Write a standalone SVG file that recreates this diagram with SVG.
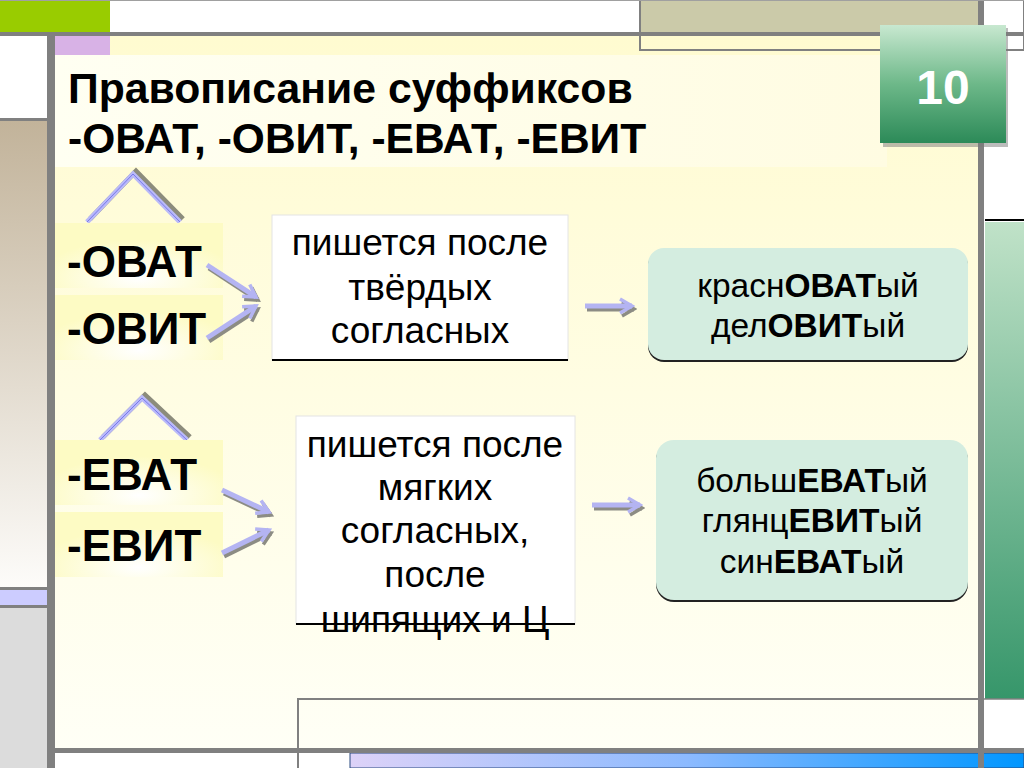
<svg xmlns="http://www.w3.org/2000/svg" width="1024" height="768" viewBox="0 0 1024 768">
<defs>
  <linearGradient id="panel" x1="0" y1="0" x2="0" y2="1">
    <stop offset="0" stop-color="#fffbd0"/>
    <stop offset="1" stop-color="#fffff6"/>
  </linearGradient>
  <linearGradient id="titleband" x1="0" y1="0" x2="1" y2="0">
    <stop offset="0" stop-color="#fffff2"/>
    <stop offset="1" stop-color="#fffce2"/>
  </linearGradient>
  <linearGradient id="tan" x1="0" y1="0" x2="0" y2="1">
    <stop offset="0" stop-color="#c2b39a"/>
    <stop offset="1" stop-color="#fdfcfa"/>
  </linearGradient>
  <linearGradient id="greenbar" x1="0" y1="0" x2="0" y2="1">
    <stop offset="0" stop-color="#c0e2c8"/>
    <stop offset="1" stop-color="#36966a"/>
  </linearGradient>
  <linearGradient id="badge" x1="0" y1="0" x2="0" y2="1">
    <stop offset="0" stop-color="#c8e8d0"/>
    <stop offset="0.5" stop-color="#6db889"/>
    <stop offset="1" stop-color="#2c8a58"/>
  </linearGradient>
  <linearGradient id="blue" x1="0" y1="0" x2="1" y2="0">
    <stop offset="0" stop-color="#ddd2f8"/>
    <stop offset="0.5" stop-color="#8cbaff"/>
    <stop offset="1" stop-color="#0096ff"/>
  </linearGradient>
  <radialGradient id="lab" cx="0.5" cy="0.85" r="0.6">
    <stop offset="0" stop-color="#ffffff"/>
    <stop offset="1" stop-color="#fdfbc4"/>
  </radialGradient>
  <marker id="head" viewBox="0 0 18 18" refX="15" refY="9" markerWidth="18" markerHeight="18" markerUnits="userSpaceOnUse" orient="auto">
    <path d="M3,2 L15,9 L3,16" fill="none" stroke="#b4b4f2" stroke-width="3.5"/>
  </marker>
  <marker id="headS" viewBox="0 0 18 18" refX="15" refY="9" markerWidth="18" markerHeight="18" markerUnits="userSpaceOnUse" orient="auto">
    <path d="M3,2 L15,9 L3,16" fill="none" stroke="#8c8c84" stroke-width="3.5"/>
  </marker>
  <style>
    .t { font-family: "Liberation Sans", Arial, sans-serif; fill: #000; }
    .b { font-weight: bold; }
    .grid { fill: #808080; }
    .thin { fill: none; stroke: #808080; stroke-width: 2; }
    .sh { fill: none; stroke: #8c8c84; stroke-width: 5; marker-end: url(#headS); }
    .ar { fill: none; stroke: #b4b4f2; stroke-width: 5; marker-end: url(#head); }
    .chs { fill: none; stroke: #8c8c7c; stroke-width: 5; }
    .ch { fill: none; stroke: #babaf8; stroke-width: 5; }
    .chi { fill: none; stroke: #7878ee; stroke-width: 1; }
    .lab { fill: url(#lab); }
    .rule { fill: #ffffff; stroke: #e4e4e4; stroke-width: 1; }
    .res { fill: #d4ede0; }
    .resS { fill: #222222; }
  </style>
</defs>

<!-- background frame -->
<rect x="0" y="0" width="1024" height="768" fill="#ffffff"/>
<rect x="0" y="0" width="110" height="32" fill="#99cc00"/>
<rect x="640" y="0" width="340" height="33" fill="#cbcaa9"/>
<rect x="55" y="36" width="925" height="713" fill="url(#panel)"/>
<rect x="55" y="36" width="55" height="19" fill="#d8b2e6"/>
<rect x="640" y="0" width="384" height="50" class="thin" stroke-width="1.5"/>
<rect x="0" y="121" width="47" height="468" fill="url(#tan)"/>
<rect x="0" y="590" width="47" height="15" fill="#ccccff"/>
<rect x="0" y="608" width="47" height="160" fill="#dcdcdc"/>
<rect x="0" y="118" width="47" height="3" class="grid"/>
<rect x="0" y="587" width="47" height="3" class="grid"/>
<rect x="0" y="605" width="47" height="3" class="grid"/>
<rect x="985" y="222" width="39" height="477" fill="url(#greenbar)"/>
<rect x="985" y="219" width="39" height="2" fill="#000000"/>
<rect x="298" y="699" width="682" height="80" class="thin" stroke-width="1.5"/>
<line x1="983" y1="699" x2="1024" y2="699" stroke="#808080" stroke-width="1.5"/>
<rect x="350" y="753" width="674" height="15" fill="url(#blue)" stroke="#2a4a80" stroke-width="1"/>
<rect x="0" y="32" width="1024" height="4" class="grid"/>
<rect x="47" y="32" width="8" height="736" class="grid"/>
<rect x="978" y="0" width="6" height="768" class="grid"/>
<rect x="55" y="748" width="969" height="5" class="grid"/>
<line x1="0" y1="0.5" x2="1024" y2="0.5" stroke="#a0a0a0" stroke-width="1"/>

<!-- title -->
<g id="title">
  <rect x="55" y="55" width="832" height="112" fill="url(#titleband)"/>
  <text class="t b" x="68" y="103" font-size="42.7">Правописание суффиксов</text>
  <text class="t b" x="68" y="153" font-size="42.5">-ОВАТ, -ОВИТ, -ЕВАТ, -ЕВИТ</text>
</g>

<!-- page number badge -->
<g id="badge10">
  <rect x="883" y="28" width="125" height="119" fill="#7a7a7a" opacity="0.5"/>
  <rect x="880" y="25" width="126" height="118" fill="url(#badge)"/>
  <text class="t b" x="943" y="104" font-size="48" text-anchor="middle" style="fill:#ffffff">10</text>
</g>

<!-- chevrons -->
<g id="chevron1">
  <path class="chs" d="M90,219 L136,171 L183,219"/>
  <path class="ch" d="M87,222 L133,174 L180,222"/>
  <path class="chi" d="M87,222 L133,174 L180,222"/>
</g>
<g id="chevron2">
  <path class="chs" d="M103,437 L145,395 L190,437"/>
  <path class="ch" d="M100,440 L142,398 L187,440"/>
  <path class="chi" d="M100,440 L142,398 L187,440"/>
</g>

<!-- suffix labels -->
<g id="ovat">
  <rect class="lab" x="55" y="223" width="168" height="65"/>
  <text class="t b" x="67" y="277" font-size="44">-ОВАТ</text>
</g>
<g id="ovit">
  <rect class="lab" x="55" y="295" width="168" height="65"/>
  <text class="t b" x="67" y="344" font-size="44">-ОВИТ</text>
</g>
<g id="evat">
  <rect class="lab" x="55" y="440" width="168" height="65"/>
  <text class="t b" x="67" y="490" font-size="44">-ЕВАТ</text>
</g>
<g id="evit">
  <rect class="lab" x="55" y="512" width="168" height="65"/>
  <text class="t b" x="67" y="561" font-size="44">-ЕВИТ</text>
</g>

<!-- rule boxes -->
<g id="rule1">
  <rect class="rule" x="272" y="215" width="296" height="145"/>
  <line x1="272" y1="360" x2="568" y2="360" stroke="#000000" stroke-width="2"/>
  <text class="t" x="420" y="255" font-size="37" text-anchor="middle">пишется после</text>
  <text class="t" x="420" y="300" font-size="37" text-anchor="middle">твёрдых</text>
  <text class="t" x="420" y="343" font-size="37" text-anchor="middle">согласных</text>
</g>
<g id="rule2">
  <rect class="rule" x="296" y="416" width="279" height="208"/>
  <text class="t" x="435" y="457" font-size="37" text-anchor="middle">пишется после</text>
  <text class="t" x="435" y="500" font-size="37" text-anchor="middle">мягких</text>
  <text class="t" x="435" y="543" font-size="37" text-anchor="middle">согласных,</text>
  <text class="t" x="435" y="587" font-size="37" text-anchor="middle">после</text>
  <text class="t" x="435" y="632" font-size="37" text-anchor="middle">шипящих и Ц</text>
  <line x1="296" y1="624" x2="575" y2="624" stroke="#000000" stroke-width="2"/>
</g>

<!-- example boxes -->
<g id="examples1">
  <rect class="resS" x="648" y="250" width="320" height="112" rx="16"/>
  <rect class="res" x="648" y="248" width="320" height="112" rx="16"/>
  <text class="t" x="808" y="297" font-size="33.5" text-anchor="middle">красн<tspan class="b">ОВАТ</tspan>ый</text>
  <text class="t" x="808" y="337" font-size="33.5" text-anchor="middle">дел<tspan class="b">ОВИТ</tspan>ый</text>
</g>
<g id="examples2">
  <rect class="resS" x="656" y="442" width="312" height="160" rx="18"/>
  <rect class="res" x="656" y="440" width="312" height="160" rx="18"/>
  <text class="t" x="812" y="492" font-size="33.5" text-anchor="middle">больш<tspan class="b">ЕВАТ</tspan>ый</text>
  <text class="t" x="812" y="532" font-size="33.5" text-anchor="middle">глянц<tspan class="b">ЕВИТ</tspan>ый</text>
  <text class="t" x="812" y="573" font-size="33.5" text-anchor="middle">син<tspan class="b">ЕВАТ</tspan>ый</text>
</g>

<!-- connectors -->
<g id="connectors">
  <path class="sh" d="M209,268 L258,300"/>
  <path class="ar" d="M207,265 L256,297"/>
  <path class="sh" d="M209,341 L258,309"/>
  <path class="ar" d="M207,338 L256,306"/>
  <path class="sh" d="M587,309 L634,309"/>
  <path class="ar" d="M585,306 L632,306"/>
  <path class="sh" d="M224,493 L271,515"/>
  <path class="ar" d="M222,490 L269,512"/>
  <path class="sh" d="M224,556 L271,533"/>
  <path class="ar" d="M222,553 L269,530"/>
  <path class="sh" d="M594,508 L642,508"/>
  <path class="ar" d="M592,505 L640,505"/>
</g>
</svg>
